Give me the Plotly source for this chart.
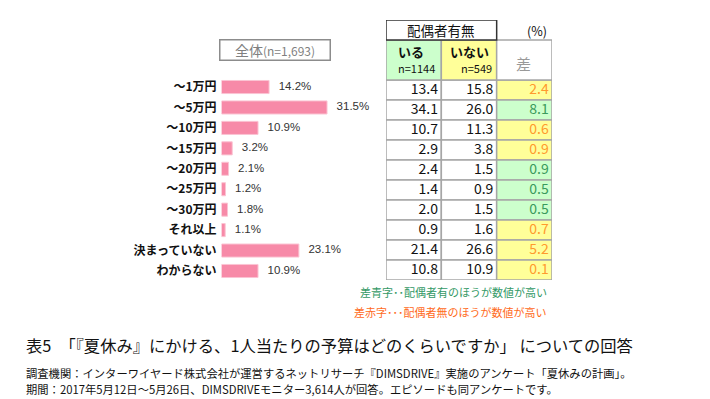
import plotly.graph_objects as go

W, H = 710, 399

# ---- data ----
categories = ["～1万円", "～5万円", "～10万円", "～15万円", "～20万円", "～25万円",
              "～30万円", "それ以上", "決まっていない", "わからない"]
total_pct = [14.2, 31.5, 10.9, 3.2, 2.1, 1.2, 1.8, 1.1, 23.1, 10.9]
married_yes = [13.4, 34.1, 10.7, 2.9, 2.4, 1.4, 2.0, 0.9, 21.4, 10.8]
married_no = [15.8, 26.0, 11.3, 3.8, 1.5, 0.9, 1.5, 1.6, 26.6, 10.9]
diff_vals = [2.4, 8.1, 0.6, 0.9, 0.9, 0.5, 0.5, 0.7, 5.2, 0.1]

JP = "Noto Sans CJK JP"
GRID = "#a6a6a6"
GREEN_FILL = "#ccffcc"
YELLOW_FILL = "#ffff99"
GREEN_TXT = "#3a9a5c"
ORANGE_TXT = "#ff9a2e"
BAR = "#f78aa8"


def px(x):
    return x / W


def py(y):
    return 1 - y / H


fig = go.Figure()

# ---- bar chart ----
n = len(categories)
fig.add_trace(go.Bar(
    x=total_pct, y=list(range(n)), orientation="h",
    marker=dict(color=BAR, line=dict(color="#fbc4d3", width=1)),
    width=0.64, hoverinfo="skip", xaxis="x", yaxis="y"))
fig.add_trace(go.Scatter(
    x=total_pct, y=list(range(n)), mode="text",
    text=["   %.1f%%" % v for v in total_pct], textposition="middle right",
    textfont=dict(family="Liberation Sans, Arial", size=11.5, color="#333333"),
    hoverinfo="skip", cliponaxis=False, xaxis="x", yaxis="y"))

# ---- table ----
cols = [married_yes, married_no, diff_vals]
for i in range(n):
    is_yes_higher = married_yes[i] > married_no[i]
    fills = ["white", "white", GREEN_FILL if is_yes_higher else YELLOW_FILL]
    for j in range(3):
        fig.add_shape(type="rect", xref="x2", yref="y2",
                      x0=j, x1=j + 1, y0=i - 0.5, y1=i + 0.5,
                      fillcolor=fills[j], line=dict(color=GRID, width=1.5), layer="below")
# header row
for j, f in enumerate([GREEN_FILL, YELLOW_FILL, "white"]):
    fig.add_shape(type="rect", xref="x2", yref="y2",
                  x0=j, x1=j + 1, y0=-2.5, y1=-0.5,
                  fillcolor=f, line=dict(color=GRID, width=1.5), layer="below")
# top header box
fig.add_shape(type="rect", xref="x2", yref="y2", x0=0, x1=2, y0=-3.5, y1=-2.5,
              fillcolor="white", line=dict(color="#333333", width=1.5), layer="below")

for j, vals in enumerate(cols):
    if j < 2:
        colors = ["#111111"] * n
    else:
        colors = [GREEN_TXT if married_yes[i] > married_no[i] else ORANGE_TXT for i in range(n)]
    fig.add_trace(go.Scatter(
        x=[j + 0.94] * n, y=list(range(n)), mode="text",
        text=["%.1f" % v for v in vals], textposition="middle left",
        textfont=dict(family=JP, size=14, color=colors),
        hoverinfo="skip", cliponaxis=False, xaxis="x2", yaxis="y2"))

ann = []


def t(x, y, s, size, color="#111111", xref="x2", yref="y2", xanchor="center", **kw):
    ann.append(dict(x=x, y=y, xref=xref, yref=yref, text=s, showarrow=False,
                    xanchor=xanchor, yanchor="middle",
                    font=dict(family=JP, size=size, color=color), **kw))


t(1.0, -3.0, "配偶者有無", 13.5)
t(2.72, -3.0, "(%)", 12.5)
t(0.46, -1.92, "<b>いる</b>", 13)
t(0.55, -1.08, "n=1144", 11)
t(1.5, -1.92, "<b>いない</b>", 13)
t(1.63, -1.08, "n=549", 11)
t(2.49, -1.35, "差", 15, color="#999999")

# legend notes
t(px(549), py(292), "差青字･･配偶者有のほうが数値が高い", 11, color="#339966",
  xref="paper", yref="paper", xanchor="right")
t(px(549), py(312), "差赤字･･･配偶者無のほうが数値が高い", 11, color="#ff6a1a",
  xref="paper", yref="paper", xanchor="right")

# 全体 box
ann.append(dict(x=px(274.5), y=py(50.5), xref="paper", yref="paper", showarrow=False,
                text="全体<span style='font-size:12px'>(n=1,693)</span>",
                font=dict(family=JP, size=14, color="#7f7f7f"),
                bordercolor="#8c8c8c", borderwidth=1.5, width=107, height=17,
                bgcolor="white", xanchor="center", yanchor="middle"))

# title and notes
t(px(24), py(345), "表5　「『夏休み』にかける、1人当たりの予算はどのくらいですか」 についての回答", 16.3,
  color="#111111", xref="paper", yref="paper", xanchor="left")
t(px(24), py(373), "調査機関：インターワイヤード株式会社が運営するネットリサーチ『DIMSDRIVE』実施のアンケート「夏休みの計画」。",
  11.3, xref="paper", yref="paper", xanchor="left")
t(px(24), py(389), "期間：2017年5月12日～5月26日、DIMSDRIVEモニター3,614人が回答。エピソードも同アンケートです。",
  11.3, xref="paper", yref="paper", xanchor="left")

bar_x0 = 221.5
scale = 3.35  # px per %
fig.update_layout(
    width=W, height=H, margin=dict(l=0, r=0, t=0, b=0),
    paper_bgcolor="white", plot_bgcolor="rgba(0,0,0,0)",
    showlegend=False, annotations=ann,
    xaxis=dict(domain=[px(bar_x0), px(bar_x0 + 40 * scale)], range=[0, 40],
               visible=False, fixedrange=True),
    yaxis=dict(domain=[py(281.2), py(76.8)], range=[n - 0.5, -0.5],
               tickmode="array", tickvals=list(range(n)), ticktext=categories,
               tickfont=dict(family=JP, size=12, color="#111111", weight="bold"),
               showgrid=False, zeroline=False, showline=False, ticks="",
               ticklabelstandoff=4, fixedrange=True),
    xaxis2=dict(domain=[px(386), px(552)], range=[0, 3], visible=False, fixedrange=True),
    yaxis2=dict(domain=[py(280), py(20)], range=[9.5, -3.5], anchor="x2",
                visible=False, fixedrange=True),
)

fig.write_html("out.html", config={"displayModeBar": False},
               post_script="document.body.style.margin='0';document.body.style.overflow='hidden';")
